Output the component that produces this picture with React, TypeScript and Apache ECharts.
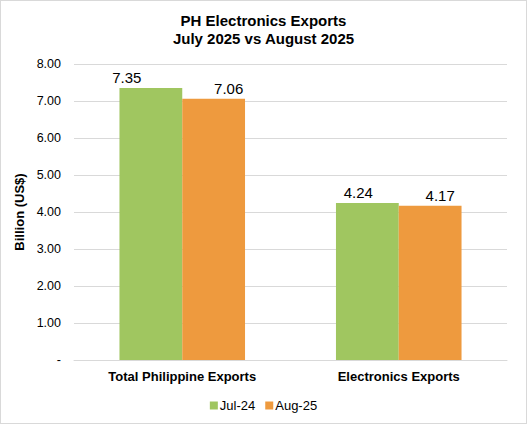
import { useEffect, useRef } from "react";
import * as echarts from "echarts";

const categories = ["Total Philippine Exports", "Electronics Exports"];
const seriesNames = ["Jul-24", "Aug-25"];
const jul24 = [7.35, 4.24];
const aug25 = [7.06, 4.17];
const yTicks = [0, 1, 2, 3, 4, 5, 6, 7, 8];

const colors = ["#A0C660", "#EE9A3E"];
// labels sit a little off the bar centres in the original
const labelShift = [
  [-24, -9],
  [15, 10],
];

const FONT = "'Liberation Sans', Arial, sans-serif";

export default function App() {
  const ref = useRef<HTMLDivElement>(null);

  useEffect(() => {
    document.body.style.margin = "0";
    const el = ref.current;
    if (!el) return;
    const chart = echarts.init(el, undefined, { renderer: "svg" });

    const makeSeries = (name: string, values: number[], idx: number) => ({
      name,
      type: "bar",
      barGap: "0%",
      barCategoryGap: "42%",
      itemStyle: { color: colors[idx] },
      label: {
        show: true,
        position: "top",
        distance: 3,
        color: "#000",
        fontSize: 15,
        fontFamily: FONT,
        formatter: (p: { value: number }) => p.value.toFixed(2),
      },
      data: values.map((v, i) => ({
        value: v,
        label: { offset: [labelShift[idx][i], 0] },
      })),
    });

    chart.setOption({
      animation: false,
      backgroundColor: "#fff",
      textStyle: { fontFamily: FONT },
      title: {
        text: "PH Electronics Exports\nJuly 2025 vs August 2025",
        left: "center",
        top: 5,
        textStyle: {
          fontSize: 15,
          fontWeight: "bold",
          color: "#000",
          lineHeight: 18,
          fontFamily: FONT,
        },
      },
      legend: {
        bottom: 6,
        left: "center",
        itemWidth: 8,
        itemHeight: 8,
        itemGap: 10,
        icon: "rect",
        textStyle: { fontSize: 13, color: "#000", fontFamily: FONT, padding: [0, 0, 0, -3] },
        data: seriesNames,
      },
      grid: { left: 73, right: 19, top: 63, bottom: 63 },
      xAxis: {
        type: "category",
        data: categories,
        axisTick: { show: false },
        axisLine: { lineStyle: { color: "#d9d9d9", width: 1 } },
        axisLabel: {
          color: "#000",
          fontSize: 13,
          fontWeight: "bold",
          margin: 10,
          fontFamily: FONT,
        },
      },
      yAxis: {
        type: "value",
        min: yTicks[0],
        max: yTicks[yTicks.length - 1],
        interval: 1,
        name: "Billion (US$)",
        nameLocation: "middle",
        nameGap: 37,
        nameTextStyle: {
          fontSize: 13,
          fontWeight: "bold",
          color: "#000",
          fontFamily: FONT,
        },
        axisLine: { show: false },
        axisTick: { show: false },
        axisLabel: {
          color: "#000",
          fontSize: 12.5,
          margin: 13,
          fontFamily: FONT,
          formatter: (v: number) => (v === 0 ? "-" : v.toFixed(2)),
        },
        splitLine: { lineStyle: { color: "#d9d9d9", width: 1 } },
      },
      series: [makeSeries(seriesNames[0], jul24, 0), makeSeries(seriesNames[1], aug25, 1)],
    });

    return () => chart.dispose();
  }, []);

  return (
    <div
      style={{
        width: 527,
        height: 424,
        boxSizing: "border-box",
        border: "1px solid #d9d9d9",
        position: "absolute",
        left: 0,
        top: 0,
      }}
    >
      <div ref={ref} style={{ width: 525, height: 422 }} />
    </div>
  );
}
